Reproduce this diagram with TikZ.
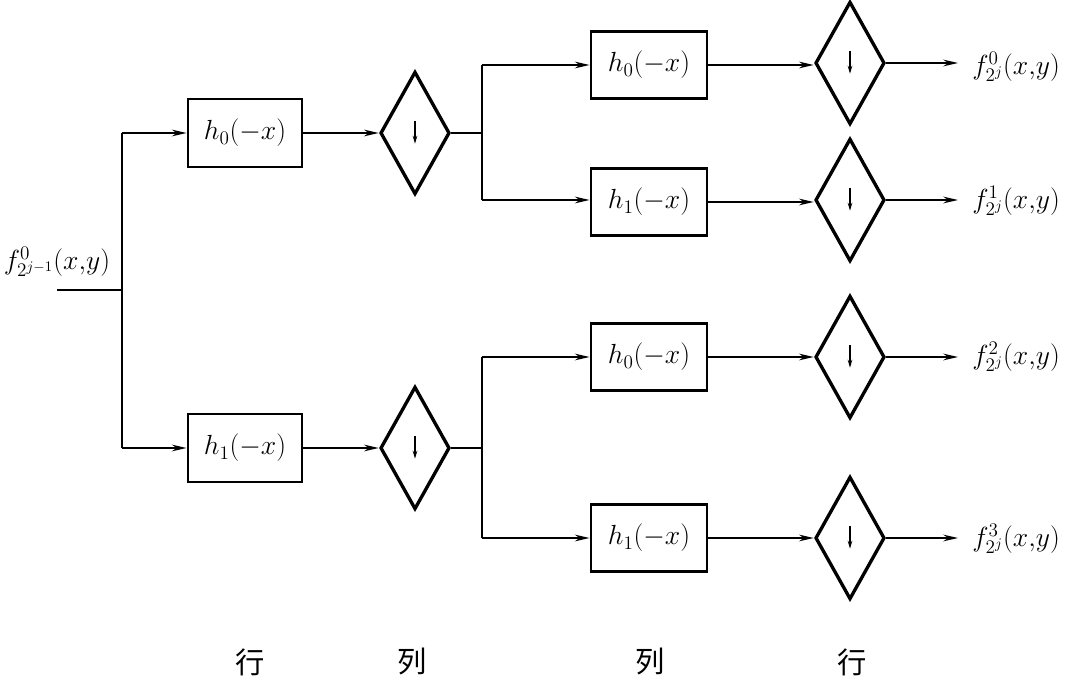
\documentclass[tikz,border=0pt]{standalone}
\usepackage{fontspec}
\newfontfamily\cjk{Noto Sans CJK SC}
\usetikzlibrary{shapes.geometric,arrows.meta}
\DeclareMathSizes{20}{20}{15}{11}
\DeclareMathSizes{21}{21}{15}{11}
\begin{document}
\begin{tikzpicture}[x=0.75pt,y=-0.75pt,
  filt/.style={draw,line width=2.2pt,minimum width=85.5pt,minimum height=51pt,inner sep=0pt,font=\fontsize{21}{25}\selectfont},
  dsamp/.style={draw,diamond,line width=2.5pt,minimum width=52pt,minimum height=92pt,inner sep=0pt,aspect=0.56},
  conn/.style={line width=1.2pt},
  arr/.style={conn,-{Stealth[length=11pt,width=5pt]}},
  outlab/.style={anchor=west,inner sep=0pt,font=\fontsize{20}{24}\selectfont},
  axlab/.style={font=\cjk\fontsize{22}{26}\selectfont,inner sep=0pt}]
\useasboundingbox (0,0) rectangle (1065,680);
% input
\node[anchor=center,inner sep=0pt,font=\fontsize{20}{24}\selectfont] (in) at (57,262) {$f^{0}_{2^{j-1}}(x{,}y)$};
\coordinate (src) at (57,290);
\coordinate (br0) at (122,290);
\coordinate (br0t) at (122,133);
\coordinate (br0b) at (122,448);
% stage 1
\node[filt] (a0) at (245,133) {$h_0(-x)$};
\node[filt] (a1) at (245,448) {$h_1(-x)$};
\node[dsamp] (d0) at (415,133) {};
\node[dsamp] (d1) at (415,448) {};
\coordinate (br1) at (482,133);
\coordinate (br1t) at (482,65);
\coordinate (br1b) at (482,200);
\coordinate (br2) at (482,448);
\coordinate (br2t) at (482,357);
\coordinate (br2b) at (482,538);
% stage 2
\node[filt,minimum width=87pt,minimum height=50pt] (b0) at (649,65) {$h_0(-x)$};
\node[filt,minimum width=87pt,minimum height=50pt] (b1) at (649,202) {$h_1(-x)$};
\node[filt,minimum width=87pt,minimum height=50pt] (b2) at (649,357) {$h_0(-x)$};
\node[filt,minimum width=87pt,minimum height=50pt] (b3) at (649,538) {$h_1(-x)$};
\node[dsamp] (e0) at (850,63) {};
\node[dsamp] (e1) at (850,200) {};
\node[dsamp] (e2) at (850,357) {};
\node[dsamp] (e3) at (850,538) {};
\node[outlab] (o0) at (972,67) {$f^{0}_{2^{j}}(x{,}y)$};
\node[outlab] (o1) at (972,201) {$f^{1}_{2^{j}}(x{,}y)$};
\node[outlab] (o2) at (972,357) {$f^{2}_{2^{j}}(x{,}y)$};
\node[outlab] (o3) at (972,539) {$f^{3}_{2^{j}}(x{,}y)$};
% arrows in diamonds
\foreach \d in {d0,d1,e0,e1,e2,e3}
  \draw[line width=0.8pt,-{Stealth[length=6pt,width=3.5pt]}] ([yshift=9pt]\d.center) -- ([yshift=-8pt]\d.center);
% connectors
\draw[conn] (src) -- (br0);
\draw[conn] (br0t) -- (br0b);
\draw[arr] (br0t) -- (a0.west);
\draw[arr] (br0b) -- (a1.west);
\draw[arr] (a0.east) -- (d0.west);
\draw[arr] (a1.east) -- (d1.west);
\draw[conn] (d0.east) -- (br1);
\draw[conn] (d1.east) -- (br2);
\draw[conn] (br1t) -- (br1b);
\draw[conn] (br2t) -- (br2b);
\draw[arr] (br1t) -- (b0.west);
\draw[arr] (br1b) -- (b1.west |- br1b);
\draw[arr] (br2t) -- (b2.west);
\draw[arr] (br2b) -- (b3.west);
\draw[arr] (b0.east) -- (e0.west |- b0.east);
\draw[arr] (b1.east) -- (e1.west |- b1.east);
\draw[arr] (b2.east) -- (e2.west);
\draw[arr] (b3.east) -- (e3.west);
\draw[arr] (e0.east) -- (958,63);
\draw[arr] (e1.east) -- (958,200);
\draw[arr] (e2.east) -- (958,357);
\draw[arr] (e3.east) -- (958,538);
% axis labels
\node[axlab] (l1) at (250,662) {行};
\node[axlab] (l2) at (412,662) {列};
\node[axlab] (l3) at (650,662) {列};
\node[axlab] (l4) at (852,662) {行};
\end{tikzpicture}
\end{document}
